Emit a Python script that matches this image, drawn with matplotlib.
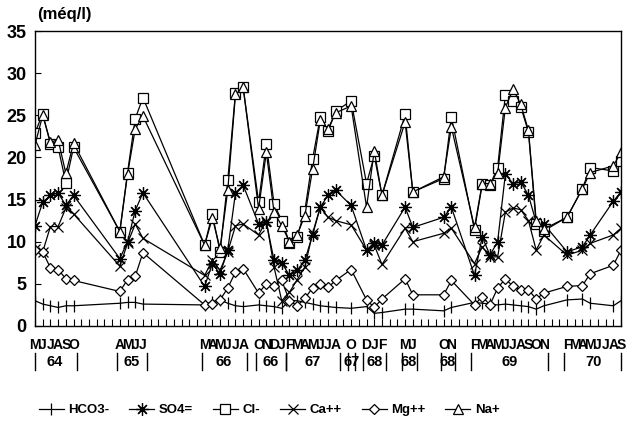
import matplotlib
matplotlib.use("Agg")
import matplotlib.pyplot as plt
from matplotlib.transforms import blended_transform_factory

plt.rcParams["font.family"] = ["Liberation Sans", "DejaVu Sans"]
plt.rcParams["font.weight"] = "bold"

# month index: 0 = May 1964 ... 76 = Sep 1970
months = [0, 1, 2, 3, 4, 5, 11, 12, 13, 14, 22, 23, 24, 25, 26, 27,
          29, 30, 31, 32, 33, 34, 35, 36, 37, 38, 39, 41, 43, 44, 45,
          48, 49, 53, 54, 57, 58, 59, 60, 61, 62, 63, 64, 65, 66,
          69, 71, 72, 75, 76]

hco3 = [3.0, 2.6, 2.4, 2.2, 2.4, 2.4, 2.7, 2.8, 2.8, 2.6, 2.5, 2.9, 3.1, 2.7, 2.4, 2.3,
        2.5, 2.4, 2.3, 2.1, 3.0, 3.0, 2.8, 2.6, 2.4, 2.3, 2.2, 2.1, 2.3, 1.5, 1.6,
        2.0, 2.0, 1.8, 2.2, 2.8, 2.7, 2.6, 2.5, 2.6, 2.5, 2.4, 2.3, 2.0, 2.4,
        3.1, 3.2, 2.7, 2.4, 3.0]
so4 = [11.9, 14.7, 15.5, 15.8, 14.3, 15.5, 8.0, 10.0, 13.7, 15.8, 4.7, 7.4, 6.2, 9.0, 15.8, 16.7,
       12.1, 12.3, 7.8, 7.5, 6.0, 6.6, 7.8, 10.8, 14.1, 15.5, 16.1, 14.3, 9.0, 9.9, 9.6,
       14.1, 11.7, 12.9, 14.1, 6.0, 10.6, 8.4, 10.0, 18.0, 16.9, 17.1, 15.5, 12.3, 12.1,
       8.8, 9.4, 10.8, 14.8, 15.9]
cl = [22.9, 25.2, 21.6, 21.2, 17.0, 21.2, 11.2, 18.2, 24.6, 27.1, 9.6, 13.3, 8.8, 17.3, 27.7, 28.3,
      14.7, 21.6, 14.5, 12.5, 9.9, 10.6, 13.7, 19.8, 24.8, 23.1, 25.5, 26.7, 16.9, 20.2, 15.5,
      25.1, 15.9, 17.5, 24.8, 11.4, 16.8, 16.7, 18.8, 27.4, 26.7, 26.0, 23.0, 12.1, 11.3,
      12.9, 16.3, 18.8, 18.4, 19.6]
ca = [9.1, 8.8, 11.8, 11.8, 14.0, 13.3, 7.1, 9.8, 12.1, 10.4, 6.0, 7.8, 6.6, 8.8, 11.9, 12.1,
      10.8, 12.5, 7.0, 3.0, 4.0, 5.5, 7.0, 11.0, 14.1, 12.9, 12.5, 12.0, 9.0, 9.6, 7.3,
      11.6, 10.0, 11.0, 11.6, 7.4, 9.4, 8.2, 8.2, 13.5, 14.0, 13.8, 12.5, 9.0, 10.8,
      8.4, 9.0, 9.8, 10.8, 11.6]
mg = [9.0, 8.8, 6.9, 6.7, 5.6, 5.4, 4.1, 5.5, 5.9, 8.7, 2.5, 2.6, 3.1, 4.5, 6.4, 6.8,
      3.9, 5.0, 4.7, 5.4, 3.0, 2.4, 3.3, 4.5, 5.0, 4.6, 5.4, 6.7, 3.1, 2.2, 3.2,
      5.6, 3.7, 3.7, 5.4, 2.5, 3.5, 2.5, 4.5, 5.6, 4.7, 4.3, 4.3, 3.2, 3.9,
      4.7, 4.8, 6.2, 7.2, 9.0]
na = [21.5, 25.0, 21.8, 22.1, 18.1, 21.7, 11.2, 18.0, 23.4, 24.9, 9.6, 12.8, 9.2, 16.1, 27.5, 28.3,
      13.9, 20.6, 13.5, 11.9, 10.0, 10.8, 13.1, 18.6, 24.4, 23.4, 25.3, 26.1, 14.1, 20.8, 15.5,
      24.2, 15.9, 17.7, 23.6, 11.7, 16.9, 16.9, 18.1, 25.9, 28.1, 26.3, 23.2, 12.5, 11.5,
      12.9, 16.3, 18.2, 19.0, 20.6]

# month-letter groups: (first month index, letters, year)
groups = [(0, "MJJASO", "64"), (11, "AMJJ", "65"), (22, "MAMJJA", "66"),
          (29, "ONDJ", "66"), (33, "FMAMJJA", "67"), (41, "O", "67"),
          (43, "DJF", "68"), (48, "MJ", "68"), (53, "ON", "68"),
          (57, "FMAMJJASON", "69"), (69, "FMAMJJAS", "70")]

fig = plt.figure(figsize=(6.26, 4.25), dpi=100)
ax = fig.add_axes([35 / 626, 1 - 326 / 425, 586 / 626, 295 / 425])

kw = dict(color="black", lw=0.9, mfc="white", mec="black", mew=0.9)
ax.plot(months, hco3, marker="|", ms=8, label="HCO3-", **kw)
ax.plot(months, so4, marker=(8, 2, 0), ms=9, label="SO4=", **kw)
ax.plot(months, cl, marker="s", ms=7, label="Cl-", **kw)
ax.plot(months, ca, marker="x", ms=7, label="Ca++", **kw)
ax.plot(months, mg, marker="D", ms=5.5, label="Mg++", **kw)
ax.plot(months, na, marker="^", ms=7.5, label="Na+", **kw)

ax.set_xlim(0, 76)
ax.set_ylim(0, 35)
ax.set_yticks(range(0, 36, 5))
ax.set_xticks(range(0, 77))
ax.set_xticklabels([])
ax.tick_params(axis="y", direction="in", length=4, labelsize=13, pad=6)
ax.tick_params(axis="x", direction="in", length=5, width=0.8)
for lab in ax.get_yticklabels():
    lab.set_fontweight("bold")
for s in ax.spines.values():
    s.set_linewidth(1.0)

fig.text(37 / 626, 1 - 15 / 425, "(méq/l)", fontsize=12, fontweight="bold",
         va="center", ha="left")

tr = blended_transform_factory(ax.transData, fig.transFigure)
y_month = 1 - 345 / 425
y_year = 1 - 362 / 425
for start, letters, year in groups:
    end = start + len(letters) - 1
    for i, ch in enumerate(letters):
        ax.text(start + i, y_month, ch, transform=tr, ha="center", va="center",
                fontsize=10, fontweight="bold", clip_on=False)
    ax.text((start + end) / 2, y_year, year, transform=tr, ha="center", va="center",
            fontsize=10.5, fontweight="bold", clip_on=False)
    for xb in (max(start - 0.4, 0), min(end + 0.5, 76)):
        ax.plot([xb, xb], [1 - 353 / 425, 1 - 370 / 425], transform=tr,
                color="black", lw=1.0, clip_on=False)

fig.legend(loc="center", bbox_to_anchor=(0.43, 1 - 410 / 425), ncol=6,
           frameon=False, handlelength=1.9, columnspacing=1.5,
           handletextpad=0.35, prop={"weight": "bold", "size": 9.5})

fig.savefig("out.png", dpi=100)
